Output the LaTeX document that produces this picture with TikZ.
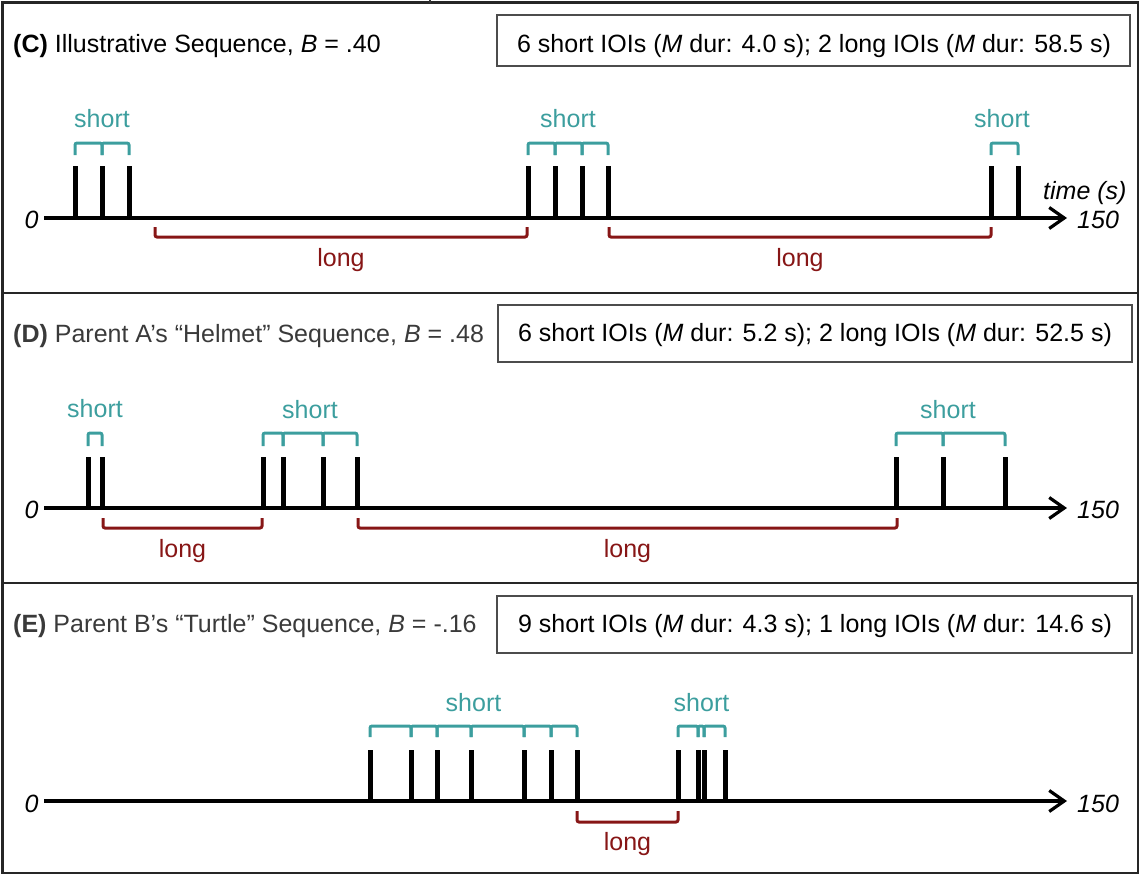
\documentclass[tikz,border=0pt]{standalone}
\usepackage{fontspec}
\setmainfont{Liberation Sans}
\usetikzlibrary{arrows.meta}
\definecolor{tealc}{RGB}{60,158,158}
\definecolor{longc}{RGB}{135,22,22}
\definecolor{titlegray}{RGB}{58,58,58}
\begin{document}
\begin{tikzpicture}[x=1pt,y=-1pt,
  font=\fontsize{25}{29}\selectfont,
  bar/.style={line width=5pt, black},
  shortbr/.style={line width=3pt, tealc, rounded corners=2pt},
  longbr/.style={line width=3pt, longc, rounded corners=2pt},
  axisline/.style={line width=3.2pt, black, -{Straight Barb[length=15pt,width=21pt,line width=3.2pt]}},
  panelline/.style={line width=2.4pt, black!85},
  boxframe/.style={draw=black!70, line width=1.6pt, inner sep=0pt},
  lbl/.style={inner sep=0pt, anchor=base},
  titletext/.style={inner sep=0pt, anchor=base west},
  shortlbl/.style={lbl, text=tealc},
  longlbl/.style={lbl, text=longc},
  axislbl/.style={lbl, font=\fontsize{25}{29}\selectfont\itshape}
]
\useasboundingbox (0,0) rectangle (1144,876);

% ---------- frame ----------
\draw[panelline] (2.5,2.5) rectangle (1138,873);
\draw[panelline] (2.5,293) -- (1138,293);
\draw[panelline] (2.5,583) -- (1138,583);
\draw[line width=1.6pt, black!80] (430,0) -- (430,2.5);

% ================= Panel C =================
\node[titletext] (tC) at (13,52) {{\bfseries (C)} Illustrative Sequence, \textit{B} = .40};
\node[boxframe, minimum width=633pt, minimum height=51pt] (bC) at (813.5,40.5) {};
\node[lbl] (sC) at (814,52) {6 short IOIs (\textit{M} dur: 4.0 s); 2 long IOIs (\textit{M} dur: 58.5 s)};
\coordinate (aC0) at (44,218);
\coordinate (aC1) at (1067,218);
\draw[axisline] (aC0) -- (aC1);
\node[axislbl] (zC) at (31.5,228) {0};
\node[axislbl, anchor=base west] (eC) at (1077,228) {150};
\node[axislbl, anchor=base west] (timeC) at (1043,199) {time (s)};
\foreach \x in {75,102,129,528,555,582,608,991,1018}
  \draw[bar] (\x,218) -- (\x,166);
\foreach \a/\b in {75/102,102/129,528/555,555/582,582/608,991/1018}
  \draw[shortbr] (\a,155) -- (\a,143) -- (\b,143) -- (\b,155);
\node[shortlbl] (shC1) at (102,127) {short};
\node[shortlbl] (shC2) at (568,127) {short};
\node[shortlbl] (shC3) at (1002,127) {short};
\foreach \a/\b in {155/527,609/991}
  \draw[longbr] (\a,227) -- (\a,237) -- (\b,237) -- (\b,227);
\node[longlbl] (lgC1) at (341,266) {long};
\node[longlbl] (lgC2) at (800,266) {long};

% ================= Panel D =================
\node[titletext, text=titlegray] (tD) at (13,342) {{\bfseries (D)} Parent A’s “Helmet” Sequence, \textit{B} = .48};
\node[boxframe, minimum width=634pt, minimum height=57pt] (bD) at (815,333.5) {};
\node[lbl] (sD) at (815,341) {6 short IOIs (\textit{M} dur: 5.2 s); 2 long IOIs (\textit{M} dur: 52.5 s)};
\coordinate (aD0) at (44,508);
\coordinate (aD1) at (1067,508);
\draw[axisline] (aD0) -- (aD1);
\node[axislbl] (zD) at (31.5,518) {0};
\node[axislbl, anchor=base west] (eD) at (1077,518) {150};
\foreach \x in {88,102,263,283,323,357,896,943,1005}
  \draw[bar] (\x,508) -- (\x,457);
\foreach \a/\b in {88/102,263/283,283/323,323/357,896/943,943/1005}
  \draw[shortbr] (\a,446) -- (\a,433) -- (\b,433) -- (\b,446);
\node[shortlbl] (shD1) at (95,417) {short};
\node[shortlbl] (shD2) at (310,418) {short};
\node[shortlbl] (shD3) at (948,418) {short};
\foreach \a/\b in {103/262,358/897}
  \draw[longbr] (\a,518) -- (\a,528) -- (\b,528) -- (\b,518);
\node[longlbl] (lgD1) at (182.5,557) {long};
\node[longlbl] (lgD2) at (627.5,557) {long};

% ================= Panel E =================
\node[titletext, text=titlegray] (tE) at (13,632) {{\bfseries (E)} Parent B’s “Turtle” Sequence, \textit{B} = -.16};
\node[boxframe, minimum width=635pt, minimum height=57pt] (bE) at (814.5,624.5) {};
\node[lbl] (sE) at (815,632) {9 short IOIs (\textit{M} dur: 4.3 s); 1 long IOIs (\textit{M} dur: 14.6 s)};
\coordinate (aE0) at (44,801);
\coordinate (aE1) at (1067,801);
\draw[axisline] (aE0) -- (aE1);
\node[axislbl] (zE) at (31.5,812) {0};
\node[axislbl, anchor=base west] (eE) at (1077,812) {150};
\foreach \x in {370,411,437,471,524,551,577,678,698,704,725}
  \draw[bar] (\x,801) -- (\x,750);
\foreach \a/\b in {370/411,411/437,437/471,471/524,524/551,551/577,678/698,698/704,704/725}
  \draw[shortbr] (\a,737) -- (\a,726) -- (\b,726) -- (\b,737);
\node[shortlbl] (shE1) at (473.5,711) {short};
\node[shortlbl] (shE2) at (701.5,711) {short};
\draw[longbr] (577,811) -- (577,822) -- (678,822) -- (678,811);
\node[longlbl] (lgE1) at (627.5,850) {long};
\end{tikzpicture}
\end{document}
